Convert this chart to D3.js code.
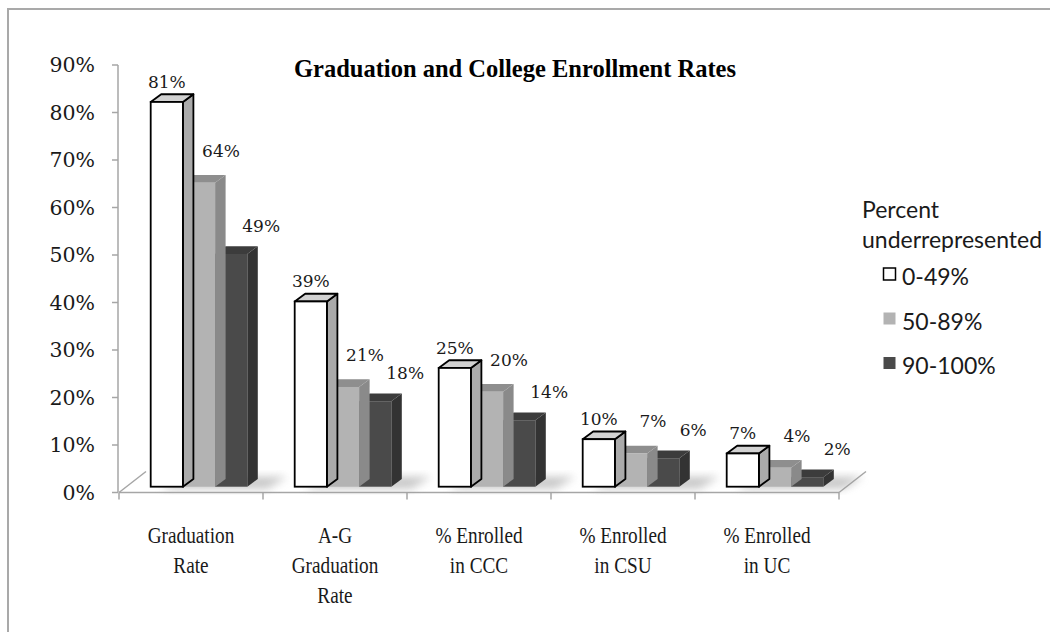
<html>
<head>
<script src="https://cdn.jsdelivr.net/npm/d3@7"></script>
<style>
  body { margin: 0; background: #fff; }
  svg { display: block; }
</style>
</head>
<body>
<svg width="1050" height="632"></svg>
<script>
// chart data
var categories = [["Graduation", "Rate"], ["A-G", "Graduation", "Rate"], ["% Enrolled", "in CCC"], ["% Enrolled", "in CSU"], ["% Enrolled", "in UC"]];
var seriesNames = ["0-49%", "50-89%", "90-100%"];
var low = [0.81, 0.39, 0.25, 0.10, 0.07];
var mid = [0.64, 0.21, 0.20, 0.07, 0.04];
var high = [0.49, 0.18, 0.14, 0.06, 0.02];
var yTicks = [0, 0.1, 0.2, 0.3, 0.4, 0.5, 0.6, 0.7, 0.8, 0.9];

var allSeries = [low, mid, high];
// front, top, side colours per series
var faces = [
  {front: "#ffffff", top: "#d2d2d2", side: "#aaaaaa", stroke: "#000"},
  {front: "#b3b3b3", top: "#8e8e8e", side: "#8a8a8a", stroke: "none"},
  {front: "#4a4a4a", top: "#3c3c3c", side: "#333333", stroke: "none"}
];
var labelDx = [0, 22, 30], labelDy = [14, 26, 22];

var svg = d3.select("svg");

// outer border (only top/left visible in frame)
svg.append("rect").attr("x", 8).attr("y", 9).attr("width", 1100).attr("height", 700)
  .attr("fill", "none").attr("stroke", "#a9a9a9").attr("stroke-width", 2);

var x0 = d3.scaleBand().domain(d3.range(categories.length)).range([119, 839]);
var x1 = d3.scaleBand().domain(d3.range(seriesNames.length)).range([31.7, 128.3]);
var y = d3.scaleLinear().domain([0, 0.9]).range([492.5, 65]);

// floor depth and bar depth
var floorDx = 27, floorDy = -21;
var barShiftY = -5.8;
var bdx = 10.5, bdy = -7.7;

// shadow filter
var defs = svg.append("defs");
defs.append("filter").attr("id", "blur").attr("x", "-50%").attr("y", "-50%").attr("width", "200%").attr("height", "200%")
  .append("feGaussianBlur").attr("stdDeviation", 4);

// floor lines
var axisCol = "#a6a6a6";
svg.append("line").attr("x1", x0.range()[0]).attr("x2", x0.range()[1]).attr("y1", y(0)).attr("y2", y(0))
  .attr("stroke", axisCol).attr("stroke-width", 1.5);
[x0.range()[0], x0.range()[1]].forEach(function(px) {
  svg.append("line").attr("x1", px).attr("y1", y(0)).attr("x2", px + floorDx).attr("y2", y(0) + floorDy)
    .attr("stroke", axisCol).attr("stroke-width", 1.5);
});
for (var i = 0; i <= categories.length; i++) {
  var tx = x0.range()[0] + i * x0.bandwidth();
  svg.append("line").attr("x1", tx).attr("x2", tx).attr("y1", y(0)).attr("y2", y(0) + 7)
    .attr("stroke", axisCol).attr("stroke-width", 1.5);
}

// y axis
svg.append("line").attr("x1", 118).attr("x2", 118).attr("y1", y(0.9)).attr("y2", y(0))
  .attr("stroke", axisCol).attr("stroke-width", 1.5);
yTicks.forEach(function(t) {
  svg.append("line").attr("x1", 112).attr("x2", 118).attr("y1", y(t)).attr("y2", y(t))
    .attr("stroke", axisCol).attr("stroke-width", 1.5);
  svg.append("text").attr("x", 95).attr("y", y(t) + 7).attr("text-anchor", "end")
    .style("font-family", "'DejaVu Serif', serif").style("font-size", "20.5px").attr("fill", "#1a1a1a")
    .text(d3.format(".0%")(t));
});

// shadows on floor
categories.forEach(function(c, ci) {
  var sx = x0(ci) + x1(0) + 10, sw = x1.bandwidth() * 3 + 10;
  var by = y(0) + barShiftY;
  svg.append("polygon")
    .attr("points", [[sx, by + 2], [sx + sw, by + 2], [sx + sw + 20, by - 10], [sx + 20, by - 10]].join(" "))
    .attr("fill", "#9a9a9a").attr("opacity", 0.55).attr("filter", "url(#blur)");
});

// bars, back series first so the front ones overlap
categories.forEach(function(c, ci) {
  for (var si = seriesNames.length - 1; si >= 0; si--) {
    var v = allSeries[si][ci];
    var f = faces[si];
    var bx = x0(ci) + x1(si), bw = x1.bandwidth();
    var top = y(v) + barShiftY, base = y(0) + barShiftY;
    var g = svg.append("g");
    var sw = si === 0 ? 1.8 : 0;
    g.append("polygon")
      .attr("points", [[bx + bw, top], [bx + bw + bdx, top + bdy], [bx + bw + bdx, base + bdy], [bx + bw, base]].join(" "))
      .attr("fill", f.side).attr("stroke", f.stroke).attr("stroke-width", sw).attr("stroke-linejoin", "round");
    g.append("polygon")
      .attr("points", [[bx, top], [bx + bdx, top + bdy], [bx + bw + bdx, top + bdy], [bx + bw, top]].join(" "))
      .attr("fill", f.top).attr("stroke", f.stroke).attr("stroke-width", sw).attr("stroke-linejoin", "round");
    g.append("rect").attr("x", bx).attr("y", top).attr("width", bw).attr("height", base - top)
      .attr("fill", f.front).attr("stroke", f.stroke).attr("stroke-width", sw);
  }
});

// data labels
categories.forEach(function(c, ci) {
  allSeries.forEach(function(s, si) {
    var cx = x0(ci) + x1(si) + x1.bandwidth() / 2 + labelDx[si];
    svg.append("text").attr("x", cx).attr("y", y(s[ci]) + barShiftY - labelDy[si])
      .attr("text-anchor", "middle")
      .style("font-family", "'DejaVu Serif', serif").style("font-size", "17px").attr("fill", "#1a1a1a")
      .text(d3.format(".0%")(s[ci]));
  });
});

// category labels
categories.forEach(function(lines, ci) {
  var cx = x0(ci) + x0.bandwidth() / 2;
  lines.forEach(function(l, li) {
    svg.append("text").attr("transform", "translate(" + cx + "," + (543 + li * 30) + ") scale(0.82,1)")
      .attr("text-anchor", "middle")
      .style("font-family", "'Liberation Serif', serif").style("font-size", "23.5px").attr("fill", "#1a1a1a")
      .text(l);
  });
});

// title
svg.append("text").attr("x", 515).attr("y", 77).attr("text-anchor", "middle")
  .style("font-family", "'Liberation Serif', 'Times New Roman', serif").style("font-size", "24.5px")
  .style("font-weight", "bold").attr("fill", "#000")
  .text("Graduation and College Enrollment Rates");

// legend
var lg = svg.append("g");
var legFont = "Lato, sans-serif", legSize = "23px";
lg.append("text").attr("x", 862).attr("y", 218).style("font-family", legFont).style("font-size", legSize)
  .attr("fill", "#1a1a1a").text("Percent");
lg.append("text").attr("x", 862).attr("y", 248).style("font-family", legFont).style("font-size", legSize)
  .attr("fill", "#1a1a1a").text("underrepresented");
seriesNames.forEach(function(n, si) {
  var ly = 285 + si * 44.5;
  lg.append("rect").attr("x", 883.5).attr("y", ly - 17).attr("width", 12).attr("height", 12)
    .attr("fill", faces[si].front).attr("stroke", si === 0 ? "#000" : "none").attr("stroke-width", 1.5);
  lg.append("text").attr("x", 902).attr("y", ly).style("font-family", legFont).style("font-size", legSize)
    .attr("fill", "#1a1a1a").text(n);
});
</script>
</body>
</html>
